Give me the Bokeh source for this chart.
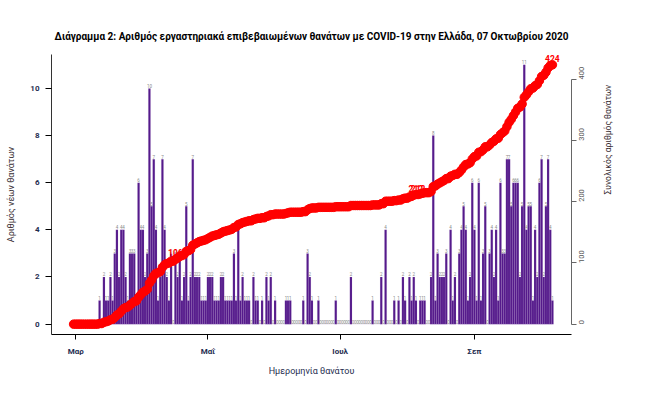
import math
from datetime import date
from bokeh.plotting import figure
from bokeh.models import ColumnDataSource, Range1d, LinearAxis, FixedTicker, LabelSet
from bokeh.core.properties import value
from bokeh.embed import file_html
from bokeh.resources import INLINE

# ---------------- data ----------------
start_date = date(2020, 2, 29)
deaths_feb = [0]
deaths_mar = [0, 0, 0, 0, 0, 0, 0, 0, 0, 0, 0, 1, 0, 2, 1, 1, 2, 1, 3, 4, 2, 4, 4, 2, 1, 3, 3, 3, 1, 6, 4]
deaths_apr = [4, 2, 3, 10, 5, 7, 4, 1, 2, 7, 4, 2, 1, 3, 0, 3, 2, 3, 1, 2, 5, 1, 2, 7, 2, 2, 2, 1, 1, 1]
deaths_may = [2, 2, 2, 1, 1, 1, 2, 2, 1, 1, 1, 1, 3, 1, 4, 1, 2, 1, 1, 1, 0, 2, 1, 1, 0, 1, 0, 2, 1, 2, 0]
deaths_jun = [1, 0, 0, 0, 0, 1, 1, 1, 0, 0, 0, 0, 0, 1, 0, 3, 2, 1, 0, 0, 1, 0, 0, 0, 0, 0, 0, 0, 1, 0]
deaths_jul = [0, 0, 0, 0, 0, 2, 0, 0, 0, 0, 0, 0, 0, 0, 0, 1, 0, 0, 0, 2, 0, 4, 0, 0, 0, 1, 0, 1, 0, 2, 1]
deaths_aug = [0, 2, 1, 2, 1, 0, 1, 1, 1, 0, 0, 2, 8, 1, 3, 2, 2, 2, 3, 0, 4, 1, 2, 0, 3, 4, 5, 4, 1, 2, 6]
deaths_sep = [4, 1, 6, 1, 3, 5, 0, 3, 4, 2, 4, 1, 6, 3, 3, 7, 7, 5, 6, 6, 6, 2, 5, 11, 4, 5, 5, 1, 4, 2]
deaths_oct = [6, 7, 2, 5, 7, 4, 1]

tick_dates = [date(2020, 3, 1), date(2020, 5, 1), date(2020, 7, 1), date(2020, 9, 1)]
tick_labels = ["Μαρ", "Μαΐ", "Ιουλ", "Σεπ"]
cum_marks = [106, 212, 424]

title_text = "Διάγραμμα 2: Αριθμός εργαστηριακά επιβεβαιωμένων θανάτων με COVID-19 στην Ελλάδα, 07 Οκτωβρίου 2020"
ylab_left = "Αριθμός νέων θανάτων"
ylab_right = "Συνολικός αριθμός θανάτων"
xlab = "Ημερομηνία θανάτου"

# ---------------- build ----------------
daily = (deaths_feb + deaths_mar + deaths_apr + deaths_may + deaths_jun +
         deaths_jul + deaths_aug + deaths_sep + deaths_oct)
days = list(range(len(daily)))
cum = []
s = 0
for v in daily:
    s += v
    cum.append(s)

src = ColumnDataSource(dict(x=days, v=daily, lbl=[str(v) for v in daily], cum=cum))
mx = [d for d, c in zip(days, cum) if c in cum_marks]
mc = [c for c in cum if c in cum_marks]
msrc = ColumnDataSource(dict(x=mx, cum=mc, lbl=[str(c) for c in mc]))

ymax = max(daily)
cmax = cum[-1]
FONT = "Roboto"
NAVY = "#1f2d50"
XR = (-10.2, 229.8)
CR = (-0.04 * cmax, cmax * 1.04)

p = figure(width=646, height=394, output_backend="svg", toolbar_location=None,
           x_range=Range1d(*XR),
           y_range=Range1d(-0.04 * ymax, ymax * 1.04),
           min_border_left=51, min_border_right=75, min_border_top=54, min_border_bottom=60)
p.extra_y_ranges = {"cum": Range1d(*CR)}
p.outline_line_color = None
p.xgrid.visible = False
p.ygrid.visible = False
p.background_fill_color = "white"
p.border_fill_color = "white"

p.title.text = title_text
p.title.align = "center"
p.title.text_font = FONT
p.title.text_font_size = "10px"
p.title.text_font_style = "bold"
p.title.text_color = "black"
p.title.standoff = 26

# bars
p.vbar(x="x", top="v", bottom=0, width=1, source=src, fill_color="#551A8B",
       line_color="#b9a5d6", line_alpha=0.35, line_width=0.35)
# bar value labels
p.text(x="x", y="v", text="lbl", source=src, text_font=value(FONT), text_font_size="4.5px",
       text_align="center", text_baseline="bottom", y_offset=-0.5, text_color="#8a8a8a")
# cumulative points
p.scatter(x="x", y="cum", source=src, y_range_name="cum", size=8.5, marker="circle",
          fill_color="red", line_color="red")
p.add_layout(LabelSet(x="x", y="cum", text="lbl", source=msrc, y_range_name="cum",
                      text_font=value(FONT), text_font_size="8.5px", text_font_style="bold",
                      text_color="red", text_align="center", text_baseline="bottom", y_offset=3))

# x axis
tick_pos = [(d - start_date).days for d in tick_dates]
xa = p.xaxis[0]
xa.ticker = FixedTicker(ticks=tick_pos)
xa.major_label_overrides = {t: l for t, l in zip(tick_pos, tick_labels)}
xa.minor_tick_line_color = None
xa.major_tick_in = 0
xa.major_tick_out = 5
xa.axis_line_color = "black"
xa.major_tick_line_color = "black"
xa.major_label_text_font = FONT
xa.major_label_text_font_size = "8px"
xa.major_label_text_font_style = "bold"
xa.major_label_text_color = NAVY
xa.major_label_standoff = 7
xa.axis_label = xlab
xa.axis_label_text_font = FONT
xa.axis_label_text_font_size = "9px"
xa.axis_label_text_font_style = "normal"
xa.axis_label_text_color = NAVY
xa.axis_label_standoff = 7

# left axis
ya = p.yaxis[0]
ya.ticker = FixedTicker(ticks=[0, 2, 4, 6, 8, 10])
ya.minor_tick_line_color = None
ya.major_tick_in = 0
ya.major_tick_out = 6
ya.axis_line_color = "#333333"
ya.major_label_orientation = "horizontal"
ya.major_label_text_font = FONT
ya.major_label_text_font_size = "8px"
ya.major_label_text_font_style = "bold"
ya.major_label_text_color = NAVY
ya.major_label_standoff = 6
ya.axis_label = ylab_left
ya.axis_label_text_font = FONT
ya.axis_label_text_font_size = "9px"
ya.axis_label_text_font_style = "normal"
ya.axis_label_text_color = "#3a2f35"
ya.axis_label_standoff = 11

# right axis
ra = LinearAxis(y_range_name="cum", ticker=FixedTicker(ticks=[0, 100, 200, 300, 400]),
                bounds=(0, 400))
ra.minor_tick_line_color = None
ra.major_tick_in = 0
ra.major_tick_out = 5
ra.axis_line_color = "#666666"
ra.major_tick_line_color = "#666666"
ra.major_label_orientation = math.pi / 2
ra.major_label_text_font = FONT
ra.major_label_text_font_size = "7.5px"
ra.major_label_text_color = "#555555"
ra.major_label_standoff = 5
ra.axis_label = ylab_right
ra.axis_label_text_font = FONT
ra.axis_label_text_font_size = "8.5px"
ra.axis_label_text_font_style = "normal"
ra.axis_label_text_color = "#3a2f35"
ra.axis_label_standoff = 18
try:
    ra.axis_label_orientation = math.pi / 2
except Exception:
    pass
p.add_layout(ra, "right")

open("out.html", "w").write(file_html(p, INLINE))
